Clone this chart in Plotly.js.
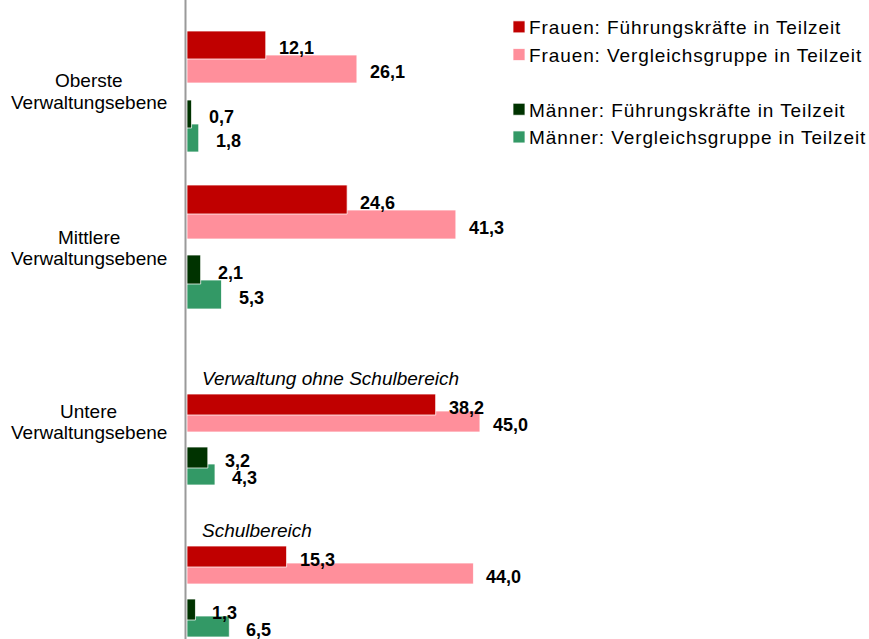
<!DOCTYPE html>
<html>
<head>
<meta charset="utf-8">
<script src="https://cdn.plot.ly/plotly-3.0.1.min.js"></script>
<style>
  html, body { margin: 0; padding: 0; background: #ffffff; }
  #chart { width: 869px; height: 639px; }
  .legendtext { letter-spacing: 0.9px; }
  .legendpoints { transform: translateX(10px); }
</style>
</head>
<body>
<div id="chart"></div>
<script>
// ---------- DATA ----------
const categories = ["Oberste\nVerwaltungsebene", "Mittlere\nVerwaltungsebene", "Untere\nVerwaltungsebene"];
const subgroups = ["", "", "Verwaltung ohne Schulbereich", "Schulbereich"];
const seriesNames = [
  "Frauen: Führungskräfte in Teilzeit",
  "Frauen: Vergleichsgruppe in Teilzeit",
  "Männer: Führungskräfte in Teilzeit",
  "Männer: Vergleichsgruppe in Teilzeit"
];
const frauenFK = [12.1, 24.6, 38.2, 15.3];
const frauenVG = [26.1, 41.3, 45.0, 44.0];
const maennerFK = [0.7, 2.1, 3.2, 1.3];
const maennerVG = [1.8, 5.3, 4.3, 6.5];

// ---------- LAYOUT (positions in pixel-like axis units, y axis reversed) ----------
const frauenRow = [57, 212, 413, 565];
const maennerRow = [126, 282, 466, 618];
const thick = [28, 29, 21, 21];
const overlap = 2;
const catLabelY = [91.5, 248, 422];
const subLabelDy = -35;

const colors = ["#C00000", "#FF8F9B", "#003300", "#339966"];
const FONT = "'Liberation Sans', Arial, Helvetica, sans-serif";
const fmt = v => v.toFixed(1).replace('.', ',');

function barTrace(name, vals, rows, isFK, color, group, rank) {
  return {
    type: 'bar', orientation: 'h', name: name,
    x: vals, y: rows,
    width: thick,
    offset: thick.map(t => isFK ? -(t - overlap) : -overlap),
    marker: { color: color, line: { color: 'rgba(255,255,255,0.75)', width: 1 } },
    legendgroup: group, legendrank: rank,
    hoverinfo: 'skip', cliponaxis: false
  };
}

const traces = [
  barTrace(seriesNames[1], frauenVG, frauenRow, false, colors[1], 'F', 2),
  barTrace(seriesNames[0], frauenFK, frauenRow, true, colors[0], 'F', 1),
  barTrace(seriesNames[3], maennerVG, maennerRow, false, colors[3], 'M', 4),
  barTrace(seriesNames[2], maennerFK, maennerRow, true, colors[2], 'M', 3)
];

const annotations = [];
function valueLabels(vals, rows, isFK, xs) {
  vals.forEach((v, i) => {
    const t = thick[i];
    const center = isFK ? rows[i] - (t - overlap) + t / 2 : rows[i] - overlap + t / 2;
    annotations.push({
      x: v, y: center, xref: 'x', yref: 'y', text: '<b>' + fmt(v) + '</b>',
      showarrow: false, xanchor: 'left', yanchor: 'middle', xshift: xs, yshift: -3,
      font: { family: FONT, size: 18, color: '#000000' }
    });
  });
}
valueLabels(frauenFK, frauenRow, true, 11);
valueLabels(frauenVG, frauenRow, false, 11);
valueLabels(maennerFK, maennerRow, true, 15);
valueLabels(maennerVG, maennerRow, false, 15);

const L = 187, W = 869;
categories.forEach((c, i) => {
  const lines = c.split('\n');
  lines.forEach((ln, j) => {
    annotations.push({
      x: (89 - L) / (W - L), xref: 'paper', y: catLabelY[i] + (j - (lines.length - 1) / 2) * 21.5, yref: 'y',
      text: ln, showarrow: false, xanchor: 'center', yanchor: 'middle',
      font: { family: FONT, size: 19, color: '#000000' }
    });
  });
});
subgroups.forEach((s, i) => {
  if (!s) return;
  annotations.push({
    x: 0, xref: 'x', y: frauenRow[i] + subLabelDy, yref: 'y', text: '<i>' + s + '</i>',
    showarrow: false, xanchor: 'left', yanchor: 'middle', xshift: 13,
    font: { family: FONT, size: 19, color: '#000000' }
  });
});

const layout = {
  width: 869, height: 639,
  margin: { l: L, r: 0, t: 0, b: 0, pad: 0, autoexpand: false },
  paper_bgcolor: '#ffffff', plot_bgcolor: '#ffffff',
  barmode: 'overlay',
  showlegend: true,
  legend: {
    xref: 'container', yref: 'container', x: 489 / 869, y: 1 - 8 / 639,
    xanchor: 'left', yanchor: 'top', traceorder: 'grouped', tracegroupgap: 27,
    font: { family: FONT, size: 19, color: '#000000' }, bgcolor: 'rgba(0,0,0,0)'
  },
  xaxis: { range: [0, (W - L) / 6.51], visible: false, fixedrange: true },
  yaxis: { range: [639, 0], visible: false, fixedrange: true },
  shapes: [{
    type: 'line', xref: 'paper', yref: 'paper', x0: -1.5 / (W - L), x1: -1.5 / (W - L), y0: 0, y1: 1,
    line: { color: '#9a9a9a', width: 2 }, layer: 'above'
  }],
  annotations: annotations,
  font: { family: FONT }
};

Plotly.newPlot('chart', traces, layout, { staticPlot: true, displayModeBar: false });
</script>
</body>
</html>
